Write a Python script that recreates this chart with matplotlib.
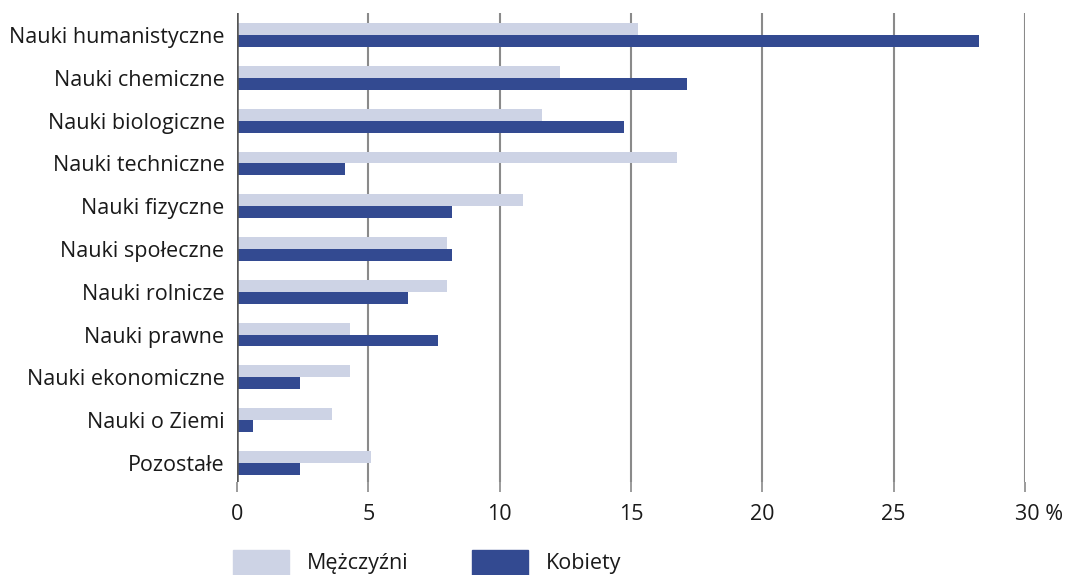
import matplotlib
matplotlib.use("Agg")
import matplotlib.pyplot as plt
from matplotlib.patches import Rectangle
from matplotlib.transforms import ScaledTranslation
import numpy as np

categories = ["Nauki humanistyczne", "Nauki chemiczne", "Nauki biologiczne",
              "Nauki techniczne", "Nauki fizyczne", "Nauki społeczne",
              "Nauki rolnicze", "Nauki prawne", "Nauki ekonomiczne",
              "Nauki o Ziemi", "Pozostałe"]
men = [15.25, 12.3, 11.6, 16.75, 10.9, 8.0, 8.0, 4.3, 4.3, 3.6, 5.1]
women = [28.25, 17.15, 14.75, 4.1, 8.2, 8.2, 6.5, 7.65, 2.4, 0.6, 2.4]
xticks = [0, 5, 10, 15, 20, 25, 30]
xticklabels = ["0", "5", "10", "15", "20", "25", "30 %"]
series_names = ["Mężczyźni", "Kobiety"]

c_light = "#CDD3E5"
c_dark = "#334A91"
txt = "#1a1a1a"
fs = 15.5

plt.rcParams['font.family'] = ['Open Sans', 'DejaVu Sans']

fig = plt.figure(figsize=(10.65, 5.75), dpi=100)
ax = fig.add_axes([237/1065, 1 - 482/575, (1025-237)/1065, (482-13)/575])

y = np.arange(len(categories))
h = 0.28
ax.barh(y - h/2, men, height=h, color=c_light, zorder=1)
ax.barh(y + h/2, women, height=h, color=c_dark, zorder=1)

ax.set_ylim(len(categories) - 0.55, -0.52)
ax.set_xlim(0, 30)
for xv in xticks[1:]:
    ax.axvline(xv, color="#8a8a8a", lw=1.5, zorder=0)
ax.axvline(0, color="#555555", lw=1.8, zorder=3)

for s in ax.spines.values():
    s.set_visible(False)

ax.set_yticks(y)
ax.set_yticklabels(categories, fontsize=fs, color=txt)
ax.tick_params(axis='y', length=0, pad=9)
ax.set_xticks(xticks)
ax.set_xticklabels(xticklabels, fontsize=fs, color=txt)
ax.tick_params(axis='x', length=7, width=1.2, color="#8a8a8a", pad=9)

# shift the "30 %" label so that the number sits on the tick
last = ax.get_xticklabels()[-1]
last.set_transform(last.get_transform() + ScaledTranslation(0.14, 0, fig.dpi_scale_trans))

# legend
for i, (name, col) in enumerate(zip(series_names, [c_light, c_dark])):
    x0 = 233 + i * 239
    fig.patches.append(Rectangle((x0/1065, 0), 56/1065, 25/575,
                                 transform=fig.transFigure, color=col))
    fig.text((x0 + 74)/1065, 1 - 563/575, name, fontsize=fs, color=txt,
             va='center', ha='left')

fig.savefig("out.png", dpi=100)
